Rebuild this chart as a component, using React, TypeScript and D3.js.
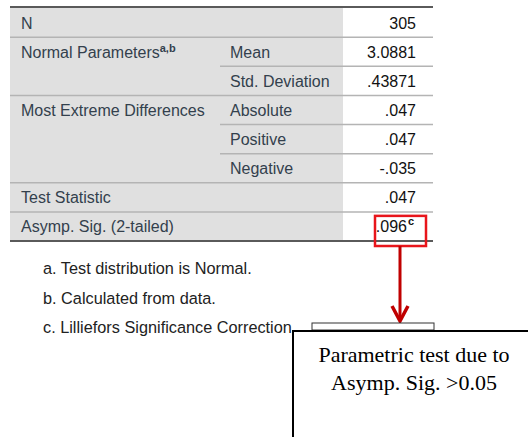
import * as d3 from "d3";

// table content, one entry per row
const rowGroups = [
  "N",
  "Normal Parameters",
  "Normal Parameters",
  "Most Extreme Differences",
  "Most Extreme Differences",
  "Most Extreme Differences",
  "Test Statistic",
  "Asymp. Sig. (2-tailed)",
];
const groupNotes = { "Normal Parameters": "a,b" };
const rowStats = ["", "Mean", "Std. Deviation", "Absolute", "Positive", "Negative", "", ""];
const rowValues = ["305", "3.0881", ".43871", ".047", ".047", "-.035", ".047", ".096"];
const valueNotes = ["", "", "", "", "", "", "", "c"];
const footnotes = [
  "a. Test distribution is Normal.",
  "b. Calculated from data.",
  "c. Lilliefors Significance Correction.",
];
const calloutLines = ["Parametric test due to", "Asymp. Sig. >0.05"];

const W = 528;
const H = 437;
const tableLeft = 10;
const tableRight = 433;
const statX = 220;
const valueX = 343;
const textColor = "#33404d";
const font = "'Liberation Sans', Arial, sans-serif";
const fs = 16;

const App = () => {
  const y = d3
    .scaleBand<number>()
    .domain(d3.range(rowValues.length))
    .range([8, 241]);
  const bh = y.bandwidth();

  const noteY = d3.scalePoint<number>().domain(d3.range(footnotes.length)).range([268, 327]);

  // first row of each group
  const groupStart = rowGroups.map((g, i) => i === 0 || rowGroups[i - 1] !== g);

  const sig = rowValues.length - 1;
  const boxTop = y(sig)! + 4;
  const boxBottom = y(sig)! + bh + 5;
  const arrowX = 400;

  return (
    <svg width={W} height={H} style={{ position: "absolute", left: 0, top: 0, background: "#fff" }}>
      <rect x={tableLeft} y={y(0)} width={valueX - tableLeft} height={bh * rowValues.length} fill="#e0e0e0" />
      <rect x={valueX} y={y(0)} width={tableRight - valueX} height={bh * rowValues.length} fill="#fff" />

      {rowValues.map((v, i) => (
        <g key={i}>
          {i > 0 && (
            <line
              x1={groupStart[i] ? tableLeft : statX}
              x2={tableRight}
              y1={y(i)}
              y2={y(i)}
              stroke="#b4b4b4"
              strokeWidth={1.5}
            />
          )}
          {groupStart[i] && (
            <text x={21} y={y(i)! + bh / 2 + 6} fontFamily={font} fontSize={fs} fill={textColor}>
              {rowGroups[i]}
              {groupNotes[rowGroups[i]] && (
                <tspan fontSize={11} fontWeight="bold" dy={-6}>
                  {groupNotes[rowGroups[i]]}
                </tspan>
              )}
            </text>
          )}
          <text x={230} y={y(i)! + bh / 2 + 6} fontFamily={font} fontSize={fs} fill={textColor}>
            {rowStats[i]}
          </text>
          <text
            x={valueNotes[i] ? 407 : 416}
            y={y(i)! + bh / 2 + 6}
            textAnchor="end"
            fontFamily={font}
            fontSize={fs}
            fill="#111"
          >
            {v}
          </text>
          {valueNotes[i] && (
            <text x={408} y={y(i)! + bh / 2 - 1} fontFamily={font} fontSize={11} fontWeight="bold" fill="#111">
              {valueNotes[i]}
            </text>
          )}
        </g>
      ))}
      <line x1={tableLeft} x2={tableRight} y1={7} y2={7} stroke="#5a5a5a" strokeWidth={2} />
      <line x1={tableLeft} x2={tableRight} y1={241} y2={241} stroke="#5a5a5a" strokeWidth={2} />

      {footnotes.map((f, i) => (
        <text key={f} x={43} y={noteY(i)! + 6} fontFamily={font} fontSize={16.3} fill="#222">
          {f}
        </text>
      ))}

      {/* highlight and arrow */}
      <rect x={375} y={boxTop} width={51} height={boxBottom - boxTop} fill="none" stroke="#e8151b" strokeWidth={2.5} />
      <line x1={arrowX} x2={arrowX} y1={boxBottom} y2={321} stroke="#c00000" strokeWidth={3} />
      <polyline
        points={`${arrowX - 8},${306} ${arrowX},${321} ${arrowX + 8},${306}`}
        fill="none"
        stroke="#c00000"
        strokeWidth={3.5}
      />

      {/* callout box */}
      <rect x={312} y={323} width={122} height={7} fill="#fff" stroke="#333" strokeWidth={1} />
      <rect x={293} y={331} width={W} height={H} fill="#fff" stroke="#000" strokeWidth={2} />
      {calloutLines.map((t, i) => (
        <text
          key={t}
          x={414}
          y={362 + i * 28}
          textAnchor="middle"
          fontFamily="'Liberation Serif', 'Times New Roman', serif"
          fontSize={22}
          fill="#000"
        >
          {t}
        </text>
      ))}
    </svg>
  );
};

export default App;
